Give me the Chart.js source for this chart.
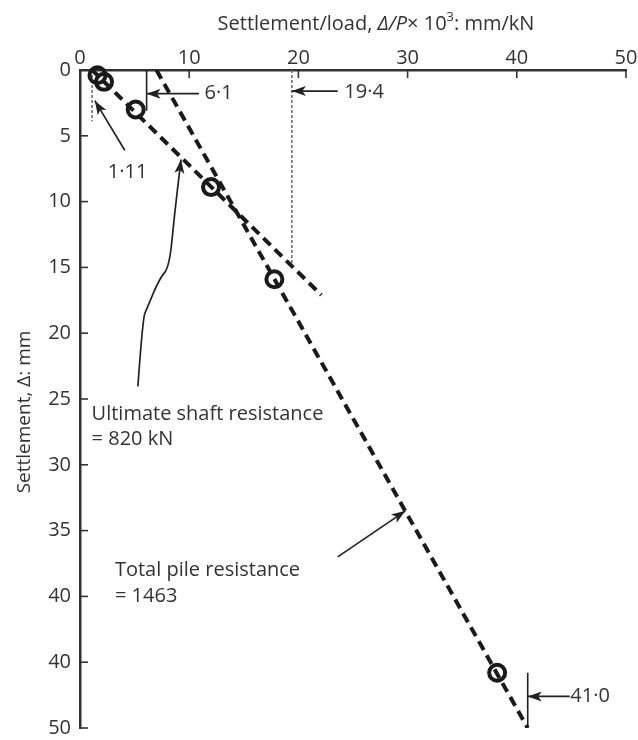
<!DOCTYPE html>
<html>
<head>
<meta charset="utf-8">
<title>Settlement / load plot</title>
<script src="https://cdn.jsdelivr.net/npm/chart.js@4.4.1/dist/chart.umd.min.js"></script>
<style>
  html, body { margin: 0; padding: 0; background: #fff; }
  #wrap { width: 638px; height: 740px; position: relative; }
</style>
</head>
<body>
<div id="wrap"><canvas id="chin"></canvas></div>
<script>
// test points: settlement/load (x10^3, mm/kN) against settlement (mm)
const settleLoad = [1.6, 2.2, 5.1, 12.0, 17.8, 38.2];
const settlement = [0.4, 0.9, 3.0, 8.9, 15.9, 45.8];

// the two fitted straight lines
const shaftLineX = [1.11, 22.1];
const shaftLineY = [0, 17.1];
const totalLineX = [7.0, 41.0];
const totalLineY = [0, 50];

// short vertical markers at the quoted values
const markerX = [1.11, 6.1, 19.4, 41.0];
const markerFrom = [0, 0, 0, 45.8];
const markerTo = [3.9, 3.1, 15.1, 50];
const markerDotted = [true, false, true, false];

const xTickStep = 10;
const yTickStep = 5;
const yTickLabels = ['0', '5', '10', '15', '20', '25', '30', '35', '40', '40', '50'];

const INK = '#333';
const DASH = '#1a1a1a';
const FONT = '"Open Sans", "Noto Sans", sans-serif';

function pairs(xs, ys) {
  return xs.map((x, i) => ({ x: x, y: ys[i] }));
}

const datasets = [];
datasets.push({
  label: 'points',
  data: pairs(settleLoad, settlement),
  showLine: false,
  pointRadius: 8,
  pointBorderWidth: 4,
  pointBorderColor: DASH,
  pointBackgroundColor: 'rgba(0,0,0,0)',
  clip: false
});
[[shaftLineX, shaftLineY], [totalLineX, totalLineY]].forEach(([xs, ys]) => {
  datasets.push({
    data: pairs(xs, ys),
    showLine: true,
    borderColor: DASH,
    borderWidth: 4,
    borderDash: [10, 6],
    pointRadius: 0,
    fill: false
  });
});
markerX.forEach((x, i) => {
  datasets.push({
    data: [{ x: x, y: markerFrom[i] }, { x: x, y: markerTo[i] }],
    showLine: true,
    borderColor: markerDotted[i] ? '#666' : '#222',
    borderWidth: markerDotted[i] ? 1.5 : 1.6,
    borderDash: markerDotted[i] ? [3, 2] : [],
    pointRadius: 0,
    fill: false
  });
});

// labels and arrows, placed in data units
const notes = [
  { text: '6·1', x: 11.4, y: 1.8 },
  { text: '19·4', x: 24.2, y: 1.72 },
  { text: '1·11', x: 2.55, y: 7.75 },
  { text: 'Ultimate shaft resistance', x: 1.06, y: 26.2 },
  { text: '= 820 kN', x: 1.06, y: 28.1 },
  { text: 'Total pile resistance', x: 3.2, y: 38.0 },
  { text: '= 1463', x: 3.2, y: 40.0 },
  { text: '41·0', x: 44.9, y: 47.6 }
];
const arrows = [
  { from: [10.9, 1.8], to: [6.1, 1.8] },
  { from: [23.6, 1.6], to: [19.4, 1.6] },
  { from: [4.1, 6.1], to: [1.36, 2.33] },
  { from: [23.6, 37.0], to: [29.8, 33.5] },
  { from: [44.85, 47.6], to: [41.0, 47.6] }
];
const shaftCurve = [[5.30, 24.04], [5.75, 18.88], [6.12, 18.13], [7.27, 15.86], [8.18, 14.98], [8.64, 11.08], [9.25, 6.80]];

function arrowHead(ctx, x0, y0, x1, y1, len, half) {
  const a = Math.atan2(y1 - y0, x1 - x0);
  const c = Math.cos(a), s = Math.sin(a);
  ctx.beginPath();
  ctx.moveTo(x1, y1);
  ctx.lineTo(x1 - len * c + half * s, y1 - len * s - half * c);
  ctx.lineTo(x1 - len * c * 0.75, y1 - len * s * 0.75);
  ctx.lineTo(x1 - len * c - half * s, y1 - len * s + half * c);
  ctx.closePath();
  ctx.fill();
}

const annotate = {
  id: 'annotate',
  afterDraw(chart) {
    const ctx = chart.ctx;
    const xs = chart.scales.x, ys = chart.scales.y;
    const px = v => xs.getPixelForValue(v);
    const py = v => ys.getPixelForValue(v);
    const area = chart.chartArea;
    ctx.save();

    // inward tick marks
    ctx.strokeStyle = INK;
    ctx.lineWidth = 1.6;
    xs.ticks.forEach(t => {
      const x = px(t.value);
      ctx.beginPath(); ctx.moveTo(x, area.top); ctx.lineTo(x, area.top + 8); ctx.stroke();
    });
    ys.ticks.forEach(t => {
      const y = py(t.value);
      ctx.beginPath(); ctx.moveTo(area.left, y); ctx.lineTo(area.left + 8, y); ctx.stroke();
    });

    // axis titles
    ctx.fillStyle = INK;
    ctx.textBaseline = 'middle';
    const size = 20;
    const parts = [
      { t: 'Settlement/load, ', f: `${size}px ${FONT}`, dy: 0 },
      { t: 'Δ/P', f: `italic ${size}px ${FONT}`, dy: 0 },
      { t: '× 10', f: `${size}px ${FONT}`, dy: 0 },
      { t: '3', f: `${Math.round(size * 0.65)}px ${FONT}`, dy: -7 },
      { t: ': mm/kN', f: `${size}px ${FONT}`, dy: 0 }
    ];
    let total = 0;
    parts.forEach(p => { ctx.font = p.f; p.w = ctx.measureText(p.t).width; total += p.w; });
    let cx = 376 - total / 2;
    ctx.textAlign = 'left';
    parts.forEach(p => { ctx.font = p.f; ctx.fillText(p.t, cx, 24 + p.dy); cx += p.w; });

    ctx.save();
    ctx.translate(25, 412);
    ctx.rotate(-Math.PI / 2);
    ctx.textAlign = 'center';
    ctx.font = `19px ${FONT}`;
    ctx.fillText('Settlement, Δ: mm', 0, 0);
    ctx.restore();

    // notes
    ctx.font = `${size}px ${FONT}`;
    ctx.textAlign = 'left';
    notes.forEach(n => ctx.fillText(n.text, px(n.x), py(n.y)));

    // straight arrows
    ctx.strokeStyle = '#222';
    ctx.fillStyle = '#222';
    ctx.lineWidth = 1.7;
    arrows.forEach(a => {
      const x0 = px(a.from[0]), y0 = py(a.from[1]);
      const x1 = px(a.to[0]), y1 = py(a.to[1]);
      ctx.beginPath(); ctx.moveTo(x0, y0); ctx.lineTo(x1, y1); ctx.stroke();
      arrowHead(ctx, x0, y0, x1, y1, 14, 5);
    });

    // curved pointer to the shaft line
    const pts = shaftCurve.map(p => [px(p[0]), py(p[1])]);
    ctx.beginPath();
    ctx.moveTo(pts[0][0], pts[0][1]);
    for (let i = 1; i < pts.length - 1; i++) {
      const mx = (pts[i][0] + pts[i + 1][0]) / 2, my = (pts[i][1] + pts[i + 1][1]) / 2;
      ctx.quadraticCurveTo(pts[i][0], pts[i][1], mx, my);
    }
    const last = pts[pts.length - 1], prev = pts[pts.length - 2];
    ctx.lineTo(last[0], last[1]);
    ctx.stroke();
    arrowHead(ctx, prev[0], prev[1], last[0], last[1], 14, 5);

    ctx.restore();
  }
};

new Chart(document.getElementById('chin'), {
  type: 'scatter',
  data: { datasets: datasets },
  options: {
    responsive: true,
    maintainAspectRatio: false,
    animation: false,
    layout: { padding: { top: 0, left: 0, right: 8, bottom: 8 } },
    plugins: { legend: { display: false }, tooltip: { enabled: false } },
    scales: {
      x: {
        type: 'linear',
        position: 'top',
        min: 0,
        max: 50,
        afterFit: s => { s.height = 70; s.paddingLeft = 0; s.paddingRight = 0; },
        grid: { display: false, drawTicks: false },
        border: { display: true, color: INK, width: 2.5 },
        ticks: { stepSize: xTickStep, color: INK, padding: 0, font: { family: FONT, size: 20 } }
      },
      y: {
        type: 'linear',
        reverse: true,
        min: 0,
        max: 50,
        afterFit: s => { s.width = 80; s.paddingTop = 0; s.paddingBottom = 0; },
        grid: { display: false, drawTicks: false },
        border: { display: true, color: INK, width: 2.5 },
        ticks: {
          stepSize: yTickStep,
          color: INK,
          padding: 9,
          font: { family: FONT, size: 20 },
          callback: v => yTickLabels[Math.round(v / yTickStep)]
        }
      }
    }
  },
  plugins: [annotate]
});
</script>
</body>
</html>
